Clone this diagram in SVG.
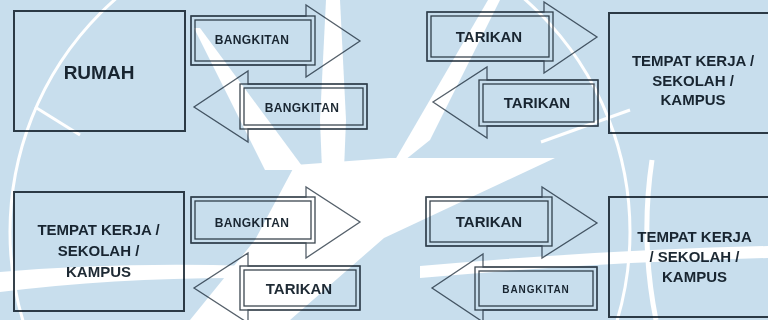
<svg xmlns="http://www.w3.org/2000/svg" width="768" height="320" viewBox="0 0 768 320">
<style>
.box{fill:none;stroke:#36414a;stroke-width:2}
.arr{fill:none;stroke:#56616b;stroke-width:1.3}
.tb{fill:none;stroke:#3c4750;stroke-width:1.3}
text{font-family:"Liberation Sans",Arial,sans-serif;font-weight:bold;fill:#1e2a34;text-anchor:middle}
.t15{font-size:15px}
.b12{font-size:12px;letter-spacing:0.4px}
.b10{font-size:10px;letter-spacing:0.9px}
</style>
<defs>
<mask id="wm" maskUnits="userSpaceOnUse" x="0" y="0" width="768" height="320">
<rect width="768" height="320" fill="white"/>
<g fill="black" stroke="black">
<circle cx="320" cy="232" r="310" fill="none" stroke-width="3"/>
<polygon points="326,0 340,0 346,120 344,170 322,170 320,120" stroke="none"/>
<polygon points="194,28 200,28 305,170 265,170" stroke="none"/>
<polygon points="488,0 500,0 430,140 405,160 395,160" stroke="none"/>
<polygon points="295,165 390,158 555,158 384,238 290,320 190,320 255,240" stroke="none"/>
<line x1="35" y1="107" x2="80" y2="135" stroke-width="3"/>
<line x1="630" y1="110" x2="541" y2="142" stroke-width="3"/>
<path d="M0,272 Q120,262 250,266 L250,278 Q120,277 0,292 Z" stroke="none"/>
<path d="M420,266 Q600,250 768,246 L768,258 Q600,262 420,278 Z" stroke="none"/>
<path d="M652,160 Q640,240 656,320" fill="none" stroke-width="5"/>
</g>
</mask>
</defs>
<rect width="768" height="320" fill="#ffffff"/>
<g id="rumah">
<rect class="box" x="14" y="11" width="171" height="120"/>
<text x="99" y="79" style="font-size:19px">RUMAH</text>
</g>
<g id="tujuan-atas">
<rect class="box" x="609" y="13" width="170" height="120"/>
<text class="t15" x="693" y="65.5">TEMPAT KERJA /</text>
<text class="t15" x="693" y="85.5">SEKOLAH /</text>
<text class="t15" x="693" y="105">KAMPUS</text>
</g>
<g id="asal-bawah">
<rect class="box" x="14" y="192" width="170" height="119"/>
<text class="t15" x="98.5" y="235">TEMPAT KERJA /</text>
<text class="t15" x="98.5" y="256">SEKOLAH /</text>
<text class="t15" x="98.5" y="277">KAMPUS</text>
</g>
<g id="tujuan-bawah">
<rect class="box" x="609" y="197" width="170" height="120"/>
<text class="t15" x="694.5" y="242">TEMPAT KERJA</text>
<text class="t15" x="694.5" y="262">/ SEKOLAH /</text>
<text class="t15" x="694.5" y="282">KAMPUS</text>
</g>
<g id="connectors">
<g id="a1">
<polygon class="arr" points="191,16 306,16 306,5 360,41 306,77 306,65 191,65"/>
<rect class="tb" x="191" y="16" width="124" height="49"/>
<rect class="tb" x="195" y="20" width="116" height="41"/>
<text class="b12" x="252" y="43.5">BANGKITAN</text>
</g>
<g id="a2">
<polygon class="arr" points="367,84 248,84 248,71 194,107 248,142 248,129 367,129"/>
<rect class="tb" x="240" y="84" width="127" height="45"/>
<rect class="tb" x="244" y="88" width="119" height="37"/>
<text class="b12" x="302" y="111.5">BANGKITAN</text>
</g>
<g id="a3">
<polygon class="arr" points="427,12 544,12 544,2 597,37 544,73 544,61 427,61"/>
<rect class="tb" x="427" y="12" width="126" height="49"/>
<rect class="tb" x="431" y="16" width="118" height="41"/>
<text class="t15" x="489" y="41.5">TARIKAN</text>
</g>
<g id="a4">
<polygon class="arr" points="598,80 487,80 487,67 433,102 487,138 487,126 598,126"/>
<rect class="tb" x="479" y="80" width="119" height="46"/>
<rect class="tb" x="483" y="84" width="111" height="38"/>
<text class="t15" x="537" y="107.5">TARIKAN</text>
</g>
<g id="b1">
<polygon class="arr" points="191,197 306,197 306,187 360,222 306,258 306,243 191,243"/>
<rect class="tb" x="191" y="197" width="124" height="46"/>
<rect class="tb" x="195" y="201" width="116" height="38"/>
<text class="b12" x="252" y="226.5">BANGKITAN</text>
</g>
<g id="b2">
<polygon class="arr" points="360,266 248,266 248,253 194,288 248,323 248,310 360,310"/>
<rect class="tb" x="240" y="266" width="120" height="44"/>
<rect class="tb" x="244" y="270" width="112" height="36"/>
<text class="t15" x="299" y="293.5">TARIKAN</text>
</g>
<g id="b3">
<polygon class="arr" points="426,197 542,197 542,187 597,223 542,258 542,246 426,246"/>
<rect class="tb" x="426" y="197" width="126" height="49"/>
<rect class="tb" x="430" y="201" width="118" height="41"/>
<text class="t15" x="489" y="227">TARIKAN</text>
</g>
<g id="b4">
<polygon class="arr" points="597,267 483,267 483,254 432,288 483,322 483,310 597,310"/>
<rect class="tb" x="475" y="267" width="122" height="43"/>
<rect class="tb" x="479" y="271" width="114" height="35"/>
<text class="b10" x="536" y="292.5">BANGKITAN</text>
</g>
</g>
<rect id="watermark" width="768" height="320" fill="#c8deed" mask="url(#wm)" style="mix-blend-mode:multiply"/>
</svg>
